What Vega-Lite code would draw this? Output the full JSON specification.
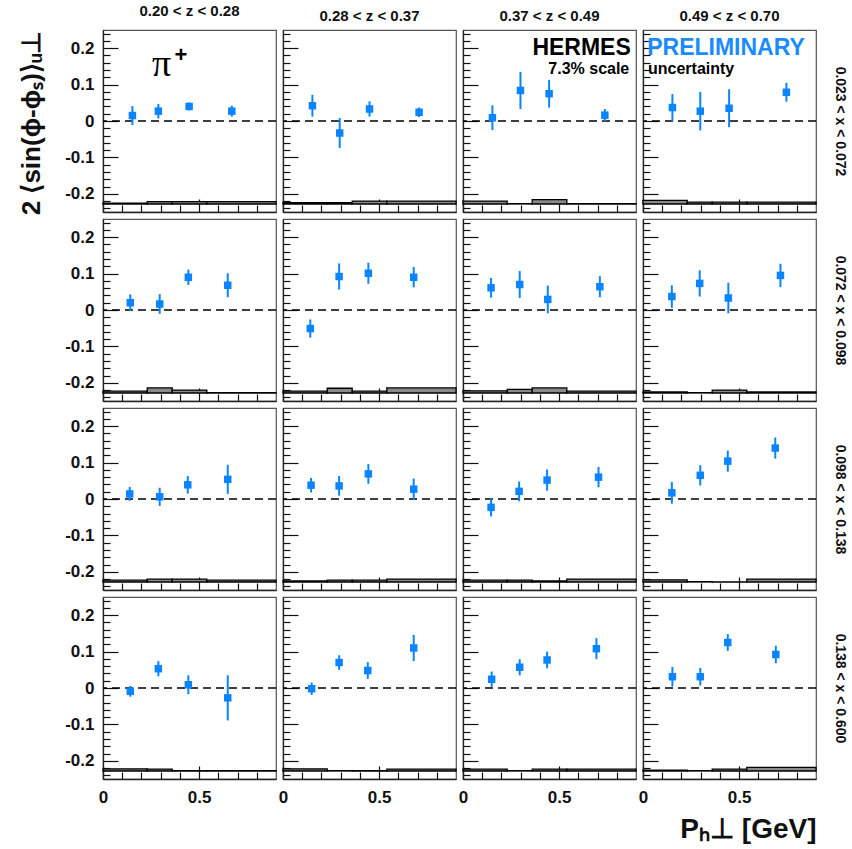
{
"$schema":"https://vega.github.io/schema/vega-lite/v6.json",
"padding":{"left":18,"top":3,"right":2,"bottom":5},
"datasets":{
"pts":[
{"r":1,"c":1,"p":0.153,"a":0.015,"e":0.026},{"r":1,"c":1,"p":0.288,"a":0.027,"e":0.02},{"r":1,"c":1,"p":0.448,"a":0.040,"e":0.011},{"r":1,"c":1,"p":0.670,"a":0.027,"e":0.015},
{"r":1,"c":2,"p":0.153,"a":0.042,"e":0.03},{"r":1,"c":2,"p":0.295,"a":-0.033,"e":0.041},{"r":1,"c":2,"p":0.450,"a":0.033,"e":0.021},{"r":1,"c":2,"p":0.708,"a":0.024,"e":0.013},
{"r":1,"c":3,"p":0.153,"a":0.009,"e":0.034},{"r":1,"c":3,"p":0.299,"a":0.084,"e":0.051},{"r":1,"c":3,"p":0.448,"a":0.075,"e":0.038},{"r":1,"c":3,"p":0.738,"a":0.016,"e":0.017},
{"r":1,"c":4,"p":0.153,"a":0.037,"e":0.037},{"r":1,"c":4,"p":0.298,"a":0.027,"e":0.053},{"r":1,"c":4,"p":0.448,"a":0.035,"e":0.052},{"r":1,"c":4,"p":0.746,"a":0.079,"e":0.026},
{"r":2,"c":1,"p":0.142,"a":0.020,"e":0.023},{"r":2,"c":1,"p":0.295,"a":0.0165,"e":0.027},{"r":2,"c":1,"p":0.444,"a":0.090,"e":0.021},{"r":2,"c":1,"p":0.649,"a":0.068,"e":0.033},
{"r":2,"c":2,"p":0.142,"a":-0.051,"e":0.025},{"r":2,"c":2,"p":0.292,"a":0.092,"e":0.036},{"r":2,"c":2,"p":0.444,"a":0.101,"e":0.029},{"r":2,"c":2,"p":0.680,"a":0.090,"e":0.028},
{"r":2,"c":3,"p":0.146,"a":0.061,"e":0.027},{"r":2,"c":3,"p":0.295,"a":0.070,"e":0.037},{"r":2,"c":3,"p":0.441,"a":0.029,"e":0.038},{"r":2,"c":3,"p":0.712,"a":0.064,"e":0.029},
{"r":2,"c":4,"p":0.150,"a":0.037,"e":0.031},{"r":2,"c":4,"p":0.295,"a":0.073,"e":0.036},{"r":2,"c":4,"p":0.444,"a":0.033,"e":0.042},{"r":2,"c":4,"p":0.715,"a":0.095,"e":0.032},
{"r":3,"c":1,"p":0.139,"a":0.014,"e":0.019},{"r":3,"c":1,"p":0.295,"a":0.006,"e":0.025},{"r":3,"c":1,"p":0.441,"a":0.039,"e":0.024},{"r":3,"c":1,"p":0.649,"a":0.054,"e":0.04},
{"r":3,"c":2,"p":0.146,"a":0.038,"e":0.02},{"r":3,"c":2,"p":0.292,"a":0.036,"e":0.027},{"r":3,"c":2,"p":0.444,"a":0.069,"e":0.027},{"r":3,"c":2,"p":0.680,"a":0.027,"e":0.029},
{"r":3,"c":3,"p":0.146,"a":-0.023,"e":0.025},{"r":3,"c":3,"p":0.292,"a":0.021,"e":0.027},{"r":3,"c":3,"p":0.4375,"a":0.052,"e":0.029},{"r":3,"c":3,"p":0.705,"a":0.060,"e":0.028},
{"r":3,"c":4,"p":0.150,"a":0.017,"e":0.030},{"r":3,"c":4,"p":0.298,"a":0.065,"e":0.028},{"r":3,"c":4,"p":0.441,"a":0.104,"e":0.029},{"r":3,"c":4,"p":0.688,"a":0.140,"e":0.029},
{"r":4,"c":1,"p":0.142,"a":-0.009,"e":0.015},{"r":4,"c":1,"p":0.288,"a":0.053,"e":0.021},{"r":4,"c":1,"p":0.444,"a":0.009,"e":0.026},{"r":4,"c":1,"p":0.649,"a":-0.027,"e":0.062},
{"r":4,"c":2,"p":0.149,"a":-0.002,"e":0.017},{"r":4,"c":2,"p":0.292,"a":0.070,"e":0.02},{"r":4,"c":2,"p":0.441,"a":0.048,"e":0.023},{"r":4,"c":2,"p":0.680,"a":0.110,"e":0.036},
{"r":4,"c":3,"p":0.149,"a":0.024,"e":0.021},{"r":4,"c":3,"p":0.295,"a":0.057,"e":0.022},{"r":4,"c":3,"p":0.4375,"a":0.077,"e":0.023},{"r":4,"c":3,"p":0.694,"a":0.108,"e":0.029},
{"r":4,"c":4,"p":0.153,"a":0.031,"e":0.027},{"r":4,"c":4,"p":0.298,"a":0.031,"e":0.024},{"r":4,"c":4,"p":0.441,"a":0.125,"e":0.023},{"r":4,"c":4,"p":0.691,"a":0.092,"e":0.024}
],
"sys":[
{"r":1,"c":1,"lo":0,"hi":0.23,"top":-0.226},{"r":1,"c":1,"lo":0.23,"hi":0.36,"top":-0.2215},{"r":1,"c":1,"lo":0.36,"hi":0.54,"top":-0.2215},{"r":1,"c":1,"lo":0.54,"hi":0.9,"top":-0.2215},
{"r":1,"c":2,"lo":0,"hi":0.23,"top":-0.224},{"r":1,"c":2,"lo":0.23,"hi":0.36,"top":-0.224},{"r":1,"c":2,"lo":0.36,"hi":0.54,"top":-0.220},{"r":1,"c":2,"lo":0.54,"hi":0.9,"top":-0.220},
{"r":1,"c":3,"lo":0,"hi":0.23,"top":-0.220},{"r":1,"c":3,"lo":0.23,"hi":0.36,"top":-0.227},{"r":1,"c":3,"lo":0.36,"hi":0.54,"top":-0.216},{"r":1,"c":3,"lo":0.54,"hi":0.9,"top":-0.227},
{"r":1,"c":4,"lo":0,"hi":0.23,"top":-0.218},{"r":1,"c":4,"lo":0.23,"hi":0.36,"top":-0.223},{"r":1,"c":4,"lo":0.36,"hi":0.54,"top":-0.223},{"r":1,"c":4,"lo":0.54,"hi":0.9,"top":-0.223},
{"r":2,"c":1,"lo":0,"hi":0.23,"top":-0.223},{"r":2,"c":1,"lo":0.23,"hi":0.36,"top":-0.214},{"r":2,"c":1,"lo":0.36,"hi":0.54,"top":-0.220},{"r":2,"c":1,"lo":0.54,"hi":0.9,"top":-0.227},
{"r":2,"c":2,"lo":0,"hi":0.23,"top":-0.223},{"r":2,"c":2,"lo":0.23,"hi":0.36,"top":-0.215},{"r":2,"c":2,"lo":0.36,"hi":0.54,"top":-0.223},{"r":2,"c":2,"lo":0.54,"hi":0.9,"top":-0.214},
{"r":2,"c":3,"lo":0,"hi":0.23,"top":-0.222},{"r":2,"c":3,"lo":0.23,"hi":0.36,"top":-0.218},{"r":2,"c":3,"lo":0.36,"hi":0.54,"top":-0.214},{"r":2,"c":3,"lo":0.54,"hi":0.9,"top":-0.223},
{"r":2,"c":4,"lo":0,"hi":0.23,"top":-0.225},{"r":2,"c":4,"lo":0.23,"hi":0.36,"top":-0.227},{"r":2,"c":4,"lo":0.36,"hi":0.54,"top":-0.220},{"r":2,"c":4,"lo":0.54,"hi":0.9,"top":-0.225},
{"r":3,"c":1,"lo":0,"hi":0.23,"top":-0.223},{"r":3,"c":1,"lo":0.23,"hi":0.36,"top":-0.220},{"r":3,"c":1,"lo":0.36,"hi":0.54,"top":-0.220},{"r":3,"c":1,"lo":0.54,"hi":0.9,"top":-0.223},
{"r":3,"c":2,"lo":0,"hi":0.23,"top":-0.225},{"r":3,"c":2,"lo":0.23,"hi":0.36,"top":-0.223},{"r":3,"c":2,"lo":0.36,"hi":0.54,"top":-0.223},{"r":3,"c":2,"lo":0.54,"hi":0.9,"top":-0.220},
{"r":3,"c":3,"lo":0,"hi":0.23,"top":-0.223},{"r":3,"c":3,"lo":0.23,"hi":0.36,"top":-0.223},{"r":3,"c":3,"lo":0.36,"hi":0.54,"top":-0.225},{"r":3,"c":3,"lo":0.54,"hi":0.9,"top":-0.220},
{"r":3,"c":4,"lo":0,"hi":0.23,"top":-0.222},{"r":3,"c":4,"lo":0.23,"hi":0.36,"top":-0.227},{"r":3,"c":4,"lo":0.36,"hi":0.54,"top":-0.2275},{"r":3,"c":4,"lo":0.54,"hi":0.9,"top":-0.220},
{"r":4,"c":1,"lo":0,"hi":0.23,"top":-0.222},{"r":4,"c":1,"lo":0.23,"hi":0.36,"top":-0.223},{"r":4,"c":1,"lo":0.36,"hi":0.54,"top":-0.227},{"r":4,"c":1,"lo":0.54,"hi":0.9,"top":-0.227},
{"r":4,"c":2,"lo":0,"hi":0.23,"top":-0.222},{"r":4,"c":2,"lo":0.23,"hi":0.36,"top":-0.227},{"r":4,"c":2,"lo":0.36,"hi":0.54,"top":-0.227},{"r":4,"c":2,"lo":0.54,"hi":0.9,"top":-0.223},
{"r":4,"c":3,"lo":0,"hi":0.23,"top":-0.223},{"r":4,"c":3,"lo":0.23,"hi":0.36,"top":-0.227},{"r":4,"c":3,"lo":0.36,"hi":0.54,"top":-0.223},{"r":4,"c":3,"lo":0.54,"hi":0.9,"top":-0.223},
{"r":4,"c":4,"lo":0,"hi":0.23,"top":-0.226},{"r":4,"c":4,"lo":0.23,"hi":0.36,"top":-0.227},{"r":4,"c":4,"lo":0.36,"hi":0.54,"top":-0.223},{"r":4,"c":4,"lo":0.54,"hi":0.9,"top":-0.218}
]
},
"columns":4,
"spacing":7,
"bounds":"flush",
"concat":[
{"width":173,"height":182,"title":{"text":"0.20 < z < 0.28"},"resolve":{"axis":{"x":"independent","y":"independent"}},
"layer":[
{"data":{"name":"sys"},"transform":[{"filter":"datum.r==1&&datum.c==1"}],"mark":{"type":"rect","fill":"#8a8a8a","stroke":"#000","strokeWidth":1.3},
"encoding":{"x":{"field":"lo","type":"quantitative","scale":{"domain":[0,0.9],"nice":false},"axis":{"values":[0,0.1,0.2,0.3,0.4,0.5,0.6,0.7,0.8],"tickSize":{"condition":{"test":"datum.value==0.5||datum.value==0","value":-13},"value":-7},"labels":false,"title":null}},"x2":{"field":"hi"},
"y":{"field":"top","type":"quantitative","scale":{"domain":[-0.25,0.25],"nice":false},"axis":{"values":[-0.24,-0.22,-0.2,-0.18,-0.16,-0.14,-0.12,-0.1,-0.08,-0.06,-0.04,-0.02,0,0.02,0.04,0.06,0.08,0.1,0.12,0.14,0.16,0.18,0.2,0.22,0.24],"tickSize":{"condition":{"test":"abs(datum.value*10-round(datum.value*10))<0.001","value":-15},"value":-7},"labelExpr":"abs(datum.value*10-round(datum.value*10))<0.001 ? (datum.value==0 ? '0' : replace(format(datum.value,'.1f'),'\u2212','-')) : ''","labelOverlap":false,"labelPadding":24,"title":"2 ⟨sin(ϕ-ϕₛ)⟩ᵤ⊥","titleAnchor":"end","titleFontSize":26,"titlePadding":20}},"y2":{"datum":-0.228}}},
{"data":{"name":"sys"},"transform":[{"filter":"datum.r==1&&datum.c==1&&datum.lo==0"}],"mark":{"type":"rule","strokeDash":[8,5],"color":"#000","strokeWidth":1.3},"encoding":{"y":{"datum":0,"type":"quantitative","scale":{"domain":[-0.25,0.25],"nice":false},"axis":null}}},
{"data":{"name":"pts"},"transform":[{"filter":"datum.r==1&&datum.c==1"}],"mark":{"type":"errorbar","color":"#0a84ff","thickness":2},"encoding":{"x":{"field":"p","type":"quantitative","scale":{"domain":[0,0.9],"nice":false},"axis":null},"y":{"field":"a","type":"quantitative","scale":{"domain":[-0.25,0.25],"nice":false},"axis":null},"yError":{"field":"e"}}},
{"data":{"name":"pts"},"transform":[{"filter":"datum.r==1&&datum.c==1"}],"mark":{"type":"square","color":"#0a84ff","size":56,"opacity":1},"encoding":{"x":{"field":"p","type":"quantitative","scale":{"domain":[0,0.9],"nice":false},"axis":null},"y":{"field":"a","type":"quantitative","scale":{"domain":[-0.25,0.25],"nice":false},"axis":null}}},
{"data":{"name":"sys"},"transform":[{"filter":"datum.r==1&&datum.c==1&&datum.lo==0"}],"mark":{"type":"text","text":"π","font":"Liberation Serif","fontSize":38,"align":"center","baseline":"alphabetic","color":"#000"},"encoding":{"x":{"datum":0.305,"type":"quantitative","scale":{"domain":[0,0.9],"nice":false},"axis":null},"y":{"datum":0.124,"type":"quantitative","scale":{"domain":[-0.25,0.25],"nice":false},"axis":null}}},
{"data":{"name":"sys"},"transform":[{"filter":"datum.r==1&&datum.c==1&&datum.lo==0"}],"mark":{"type":"text","text":"+","fontSize":22,"fontWeight":"bold","align":"center","baseline":"middle","color":"#000"},"encoding":{"x":{"datum":0.405,"type":"quantitative","scale":{"domain":[0,0.9],"nice":false},"axis":null},"y":{"datum":0.181,"type":"quantitative","scale":{"domain":[-0.25,0.25],"nice":false},"axis":null}}}
]},
{"width":173,"height":182,"title":{"text":"0.28 < z < 0.37"},"resolve":{"axis":{"x":"independent","y":"independent"}},
"layer":[
{"data":{"name":"sys"},"transform":[{"filter":"datum.r==1&&datum.c==2"}],"mark":{"type":"rect","fill":"#8a8a8a","stroke":"#000","strokeWidth":1.3},
"encoding":{"x":{"field":"lo","type":"quantitative","scale":{"domain":[0,0.9],"nice":false},"axis":{"values":[0,0.1,0.2,0.3,0.4,0.5,0.6,0.7,0.8],"tickSize":{"condition":{"test":"datum.value==0.5||datum.value==0","value":-13},"value":-7},"labels":false,"title":null}},"x2":{"field":"hi"},
"y":{"field":"top","type":"quantitative","scale":{"domain":[-0.25,0.25],"nice":false},"axis":{"values":[-0.24,-0.22,-0.2,-0.18,-0.16,-0.14,-0.12,-0.1,-0.08,-0.06,-0.04,-0.02,0,0.02,0.04,0.06,0.08,0.1,0.12,0.14,0.16,0.18,0.2,0.22,0.24],"tickSize":{"condition":{"test":"abs(datum.value*10-round(datum.value*10))<0.001","value":-15},"value":-7},"labels":false,"title":null}},"y2":{"datum":-0.228}}},
{"data":{"name":"sys"},"transform":[{"filter":"datum.r==1&&datum.c==2&&datum.lo==0"}],"mark":{"type":"rule","strokeDash":[8,5],"color":"#000","strokeWidth":1.3},"encoding":{"y":{"datum":0,"type":"quantitative","scale":{"domain":[-0.25,0.25],"nice":false},"axis":null}}},
{"data":{"name":"pts"},"transform":[{"filter":"datum.r==1&&datum.c==2"}],"mark":{"type":"errorbar","color":"#0a84ff","thickness":2},"encoding":{"x":{"field":"p","type":"quantitative","scale":{"domain":[0,0.9],"nice":false},"axis":null},"y":{"field":"a","type":"quantitative","scale":{"domain":[-0.25,0.25],"nice":false},"axis":null},"yError":{"field":"e"}}},
{"data":{"name":"pts"},"transform":[{"filter":"datum.r==1&&datum.c==2"}],"mark":{"type":"square","color":"#0a84ff","size":56,"opacity":1},"encoding":{"x":{"field":"p","type":"quantitative","scale":{"domain":[0,0.9],"nice":false},"axis":null},"y":{"field":"a","type":"quantitative","scale":{"domain":[-0.25,0.25],"nice":false},"axis":null}}}
]},
{"width":173,"height":182,"title":{"text":"0.37 < z < 0.49"},"resolve":{"axis":{"x":"independent","y":"independent"}},
"layer":[
{"data":{"name":"sys"},"transform":[{"filter":"datum.r==1&&datum.c==3"}],"mark":{"type":"rect","fill":"#8a8a8a","stroke":"#000","strokeWidth":1.3},
"encoding":{"x":{"field":"lo","type":"quantitative","scale":{"domain":[0,0.9],"nice":false},"axis":{"values":[0,0.1,0.2,0.3,0.4,0.5,0.6,0.7,0.8],"tickSize":{"condition":{"test":"datum.value==0.5||datum.value==0","value":-13},"value":-7},"labels":false,"title":null}},"x2":{"field":"hi"},
"y":{"field":"top","type":"quantitative","scale":{"domain":[-0.25,0.25],"nice":false},"axis":{"values":[-0.24,-0.22,-0.2,-0.18,-0.16,-0.14,-0.12,-0.1,-0.08,-0.06,-0.04,-0.02,0,0.02,0.04,0.06,0.08,0.1,0.12,0.14,0.16,0.18,0.2,0.22,0.24],"tickSize":{"condition":{"test":"abs(datum.value*10-round(datum.value*10))<0.001","value":-15},"value":-7},"labels":false,"title":null}},"y2":{"datum":-0.228}}},
{"data":{"name":"sys"},"transform":[{"filter":"datum.r==1&&datum.c==3&&datum.lo==0"}],"mark":{"type":"rule","strokeDash":[8,5],"color":"#000","strokeWidth":1.3},"encoding":{"y":{"datum":0,"type":"quantitative","scale":{"domain":[-0.25,0.25],"nice":false},"axis":null}}},
{"data":{"name":"pts"},"transform":[{"filter":"datum.r==1&&datum.c==3"}],"mark":{"type":"errorbar","color":"#0a84ff","thickness":2},"encoding":{"x":{"field":"p","type":"quantitative","scale":{"domain":[0,0.9],"nice":false},"axis":null},"y":{"field":"a","type":"quantitative","scale":{"domain":[-0.25,0.25],"nice":false},"axis":null},"yError":{"field":"e"}}},
{"data":{"name":"pts"},"transform":[{"filter":"datum.r==1&&datum.c==3"}],"mark":{"type":"square","color":"#0a84ff","size":56,"opacity":1},"encoding":{"x":{"field":"p","type":"quantitative","scale":{"domain":[0,0.9],"nice":false},"axis":null},"y":{"field":"a","type":"quantitative","scale":{"domain":[-0.25,0.25],"nice":false},"axis":null}}},
{"data":{"name":"sys"},"transform":[{"filter":"datum.r==1&&datum.c==3&&datum.lo==0"}],"mark":{"type":"text","text":"HERMES","fontSize":23,"fontWeight":"bold","align":"right","baseline":"alphabetic","color":"#000"},"encoding":{"x":{"datum":0.873,"type":"quantitative","scale":{"domain":[0,0.9],"nice":false},"axis":null},"y":{"datum":0.18,"type":"quantitative","scale":{"domain":[-0.25,0.25],"nice":false},"axis":null}}},
{"data":{"name":"sys"},"transform":[{"filter":"datum.r==1&&datum.c==3&&datum.lo==0"}],"mark":{"type":"text","text":"7.3%  scale","fontSize":16,"fontWeight":"bold","align":"right","baseline":"alphabetic","color":"#000"},"encoding":{"x":{"datum":0.865,"type":"quantitative","scale":{"domain":[0,0.9],"nice":false},"axis":null},"y":{"datum":0.13,"type":"quantitative","scale":{"domain":[-0.25,0.25],"nice":false},"axis":null}}}
]},
{"width":173,"height":182,"title":{"text":"0.49 < z < 0.70"},"resolve":{"axis":{"x":"independent","y":"independent"}},
"layer":[
{"data":{"name":"sys"},"transform":[{"filter":"datum.r==1&&datum.c==4"}],"mark":{"type":"rect","fill":"#8a8a8a","stroke":"#000","strokeWidth":1.3},
"encoding":{"x":{"field":"lo","type":"quantitative","scale":{"domain":[0,0.9],"nice":false},"axis":{"values":[0,0.1,0.2,0.3,0.4,0.5,0.6,0.7,0.8],"tickSize":{"condition":{"test":"datum.value==0.5||datum.value==0","value":-13},"value":-7},"labels":false,"title":null}},"x2":{"field":"hi"},
"y":{"field":"top","type":"quantitative","scale":{"domain":[-0.25,0.25],"nice":false},"axis":{"values":[-0.24,-0.22,-0.2,-0.18,-0.16,-0.14,-0.12,-0.1,-0.08,-0.06,-0.04,-0.02,0,0.02,0.04,0.06,0.08,0.1,0.12,0.14,0.16,0.18,0.2,0.22,0.24],"tickSize":{"condition":{"test":"abs(datum.value*10-round(datum.value*10))<0.001","value":-15},"value":-7},"labels":false,"title":null}},"y2":{"datum":-0.228}}},
{"data":{"name":"sys"},"transform":[{"filter":"datum.r==1&&datum.c==4&&datum.lo==0"}],"mark":{"type":"rule","strokeDash":[8,5],"color":"#000","strokeWidth":1.3},"encoding":{"y":{"datum":0,"type":"quantitative","scale":{"domain":[-0.25,0.25],"nice":false},"axis":null}}},
{"data":{"name":"pts"},"transform":[{"filter":"datum.r==1&&datum.c==4"}],"mark":{"type":"errorbar","color":"#0a84ff","thickness":2},"encoding":{"x":{"field":"p","type":"quantitative","scale":{"domain":[0,0.9],"nice":false},"axis":null},"y":{"field":"a","type":"quantitative","scale":{"domain":[-0.25,0.25],"nice":false},"axis":null},"yError":{"field":"e"}}},
{"data":{"name":"pts"},"transform":[{"filter":"datum.r==1&&datum.c==4"}],"mark":{"type":"square","color":"#0a84ff","size":56,"opacity":1},"encoding":{"x":{"field":"p","type":"quantitative","scale":{"domain":[0,0.9],"nice":false},"axis":null},"y":{"field":"a","type":"quantitative","scale":{"domain":[-0.25,0.25],"nice":false},"axis":{"orient":"right","title":"0.023 < x < 0.072","ticks":false,"labels":false,"domain":false,"titleFontSize":14,"titlePadding":16,"titleAngle":90}}}},
{"data":{"name":"sys"},"transform":[{"filter":"datum.r==1&&datum.c==4&&datum.lo==0"}],"mark":{"type":"text","text":"PRELIMINARY","fontSize":23,"fontWeight":"bold","align":"left","baseline":"alphabetic","color":"#1a8cff"},"encoding":{"x":{"datum":0.022,"type":"quantitative","scale":{"domain":[0,0.9],"nice":false},"axis":null},"y":{"datum":0.18,"type":"quantitative","scale":{"domain":[-0.25,0.25],"nice":false},"axis":null}}},
{"data":{"name":"sys"},"transform":[{"filter":"datum.r==1&&datum.c==4&&datum.lo==0"}],"mark":{"type":"text","text":"uncertainty","fontSize":16,"fontWeight":"bold","align":"left","baseline":"alphabetic","color":"#000"},"encoding":{"x":{"datum":0.026,"type":"quantitative","scale":{"domain":[0,0.9],"nice":false},"axis":null},"y":{"datum":0.13,"type":"quantitative","scale":{"domain":[-0.25,0.25],"nice":false},"axis":null}}}
]},
{"width":173,"height":182,"resolve":{"axis":{"x":"independent","y":"independent"}},
"layer":[
{"data":{"name":"sys"},"transform":[{"filter":"datum.r==2&&datum.c==1"}],"mark":{"type":"rect","fill":"#8a8a8a","stroke":"#000","strokeWidth":1.3},
"encoding":{"x":{"field":"lo","type":"quantitative","scale":{"domain":[0,0.9],"nice":false},"axis":{"values":[0,0.1,0.2,0.3,0.4,0.5,0.6,0.7,0.8],"tickSize":{"condition":{"test":"datum.value==0.5||datum.value==0","value":-13},"value":-7},"labels":false,"title":null}},"x2":{"field":"hi"},
"y":{"field":"top","type":"quantitative","scale":{"domain":[-0.25,0.25],"nice":false},"axis":{"values":[-0.24,-0.22,-0.2,-0.18,-0.16,-0.14,-0.12,-0.1,-0.08,-0.06,-0.04,-0.02,0,0.02,0.04,0.06,0.08,0.1,0.12,0.14,0.16,0.18,0.2,0.22,0.24],"tickSize":{"condition":{"test":"abs(datum.value*10-round(datum.value*10))<0.001","value":-15},"value":-7},"labelExpr":"abs(datum.value*10-round(datum.value*10))<0.001 ? (datum.value==0 ? '0' : replace(format(datum.value,'.1f'),'\u2212','-')) : ''","labelOverlap":false,"labelPadding":24,"title":null}},"y2":{"datum":-0.228}}},
{"data":{"name":"sys"},"transform":[{"filter":"datum.r==2&&datum.c==1&&datum.lo==0"}],"mark":{"type":"rule","strokeDash":[8,5],"color":"#000","strokeWidth":1.3},"encoding":{"y":{"datum":0,"type":"quantitative","scale":{"domain":[-0.25,0.25],"nice":false},"axis":null}}},
{"data":{"name":"pts"},"transform":[{"filter":"datum.r==2&&datum.c==1"}],"mark":{"type":"errorbar","color":"#0a84ff","thickness":2},"encoding":{"x":{"field":"p","type":"quantitative","scale":{"domain":[0,0.9],"nice":false},"axis":null},"y":{"field":"a","type":"quantitative","scale":{"domain":[-0.25,0.25],"nice":false},"axis":null},"yError":{"field":"e"}}},
{"data":{"name":"pts"},"transform":[{"filter":"datum.r==2&&datum.c==1"}],"mark":{"type":"square","color":"#0a84ff","size":56,"opacity":1},"encoding":{"x":{"field":"p","type":"quantitative","scale":{"domain":[0,0.9],"nice":false},"axis":null},"y":{"field":"a","type":"quantitative","scale":{"domain":[-0.25,0.25],"nice":false},"axis":null}}}
]},
{"width":173,"height":182,"resolve":{"axis":{"x":"independent","y":"independent"}},
"layer":[
{"data":{"name":"sys"},"transform":[{"filter":"datum.r==2&&datum.c==2"}],"mark":{"type":"rect","fill":"#8a8a8a","stroke":"#000","strokeWidth":1.3},
"encoding":{"x":{"field":"lo","type":"quantitative","scale":{"domain":[0,0.9],"nice":false},"axis":{"values":[0,0.1,0.2,0.3,0.4,0.5,0.6,0.7,0.8],"tickSize":{"condition":{"test":"datum.value==0.5||datum.value==0","value":-13},"value":-7},"labels":false,"title":null}},"x2":{"field":"hi"},
"y":{"field":"top","type":"quantitative","scale":{"domain":[-0.25,0.25],"nice":false},"axis":{"values":[-0.24,-0.22,-0.2,-0.18,-0.16,-0.14,-0.12,-0.1,-0.08,-0.06,-0.04,-0.02,0,0.02,0.04,0.06,0.08,0.1,0.12,0.14,0.16,0.18,0.2,0.22,0.24],"tickSize":{"condition":{"test":"abs(datum.value*10-round(datum.value*10))<0.001","value":-15},"value":-7},"labels":false,"title":null}},"y2":{"datum":-0.228}}},
{"data":{"name":"sys"},"transform":[{"filter":"datum.r==2&&datum.c==2&&datum.lo==0"}],"mark":{"type":"rule","strokeDash":[8,5],"color":"#000","strokeWidth":1.3},"encoding":{"y":{"datum":0,"type":"quantitative","scale":{"domain":[-0.25,0.25],"nice":false},"axis":null}}},
{"data":{"name":"pts"},"transform":[{"filter":"datum.r==2&&datum.c==2"}],"mark":{"type":"errorbar","color":"#0a84ff","thickness":2},"encoding":{"x":{"field":"p","type":"quantitative","scale":{"domain":[0,0.9],"nice":false},"axis":null},"y":{"field":"a","type":"quantitative","scale":{"domain":[-0.25,0.25],"nice":false},"axis":null},"yError":{"field":"e"}}},
{"data":{"name":"pts"},"transform":[{"filter":"datum.r==2&&datum.c==2"}],"mark":{"type":"square","color":"#0a84ff","size":56,"opacity":1},"encoding":{"x":{"field":"p","type":"quantitative","scale":{"domain":[0,0.9],"nice":false},"axis":null},"y":{"field":"a","type":"quantitative","scale":{"domain":[-0.25,0.25],"nice":false},"axis":null}}}
]},
{"width":173,"height":182,"resolve":{"axis":{"x":"independent","y":"independent"}},
"layer":[
{"data":{"name":"sys"},"transform":[{"filter":"datum.r==2&&datum.c==3"}],"mark":{"type":"rect","fill":"#8a8a8a","stroke":"#000","strokeWidth":1.3},
"encoding":{"x":{"field":"lo","type":"quantitative","scale":{"domain":[0,0.9],"nice":false},"axis":{"values":[0,0.1,0.2,0.3,0.4,0.5,0.6,0.7,0.8],"tickSize":{"condition":{"test":"datum.value==0.5||datum.value==0","value":-13},"value":-7},"labels":false,"title":null}},"x2":{"field":"hi"},
"y":{"field":"top","type":"quantitative","scale":{"domain":[-0.25,0.25],"nice":false},"axis":{"values":[-0.24,-0.22,-0.2,-0.18,-0.16,-0.14,-0.12,-0.1,-0.08,-0.06,-0.04,-0.02,0,0.02,0.04,0.06,0.08,0.1,0.12,0.14,0.16,0.18,0.2,0.22,0.24],"tickSize":{"condition":{"test":"abs(datum.value*10-round(datum.value*10))<0.001","value":-15},"value":-7},"labels":false,"title":null}},"y2":{"datum":-0.228}}},
{"data":{"name":"sys"},"transform":[{"filter":"datum.r==2&&datum.c==3&&datum.lo==0"}],"mark":{"type":"rule","strokeDash":[8,5],"color":"#000","strokeWidth":1.3},"encoding":{"y":{"datum":0,"type":"quantitative","scale":{"domain":[-0.25,0.25],"nice":false},"axis":null}}},
{"data":{"name":"pts"},"transform":[{"filter":"datum.r==2&&datum.c==3"}],"mark":{"type":"errorbar","color":"#0a84ff","thickness":2},"encoding":{"x":{"field":"p","type":"quantitative","scale":{"domain":[0,0.9],"nice":false},"axis":null},"y":{"field":"a","type":"quantitative","scale":{"domain":[-0.25,0.25],"nice":false},"axis":null},"yError":{"field":"e"}}},
{"data":{"name":"pts"},"transform":[{"filter":"datum.r==2&&datum.c==3"}],"mark":{"type":"square","color":"#0a84ff","size":56,"opacity":1},"encoding":{"x":{"field":"p","type":"quantitative","scale":{"domain":[0,0.9],"nice":false},"axis":null},"y":{"field":"a","type":"quantitative","scale":{"domain":[-0.25,0.25],"nice":false},"axis":null}}}
]},
{"width":173,"height":182,"resolve":{"axis":{"x":"independent","y":"independent"}},
"layer":[
{"data":{"name":"sys"},"transform":[{"filter":"datum.r==2&&datum.c==4"}],"mark":{"type":"rect","fill":"#8a8a8a","stroke":"#000","strokeWidth":1.3},
"encoding":{"x":{"field":"lo","type":"quantitative","scale":{"domain":[0,0.9],"nice":false},"axis":{"values":[0,0.1,0.2,0.3,0.4,0.5,0.6,0.7,0.8],"tickSize":{"condition":{"test":"datum.value==0.5||datum.value==0","value":-13},"value":-7},"labels":false,"title":null}},"x2":{"field":"hi"},
"y":{"field":"top","type":"quantitative","scale":{"domain":[-0.25,0.25],"nice":false},"axis":{"values":[-0.24,-0.22,-0.2,-0.18,-0.16,-0.14,-0.12,-0.1,-0.08,-0.06,-0.04,-0.02,0,0.02,0.04,0.06,0.08,0.1,0.12,0.14,0.16,0.18,0.2,0.22,0.24],"tickSize":{"condition":{"test":"abs(datum.value*10-round(datum.value*10))<0.001","value":-15},"value":-7},"labels":false,"title":null}},"y2":{"datum":-0.228}}},
{"data":{"name":"sys"},"transform":[{"filter":"datum.r==2&&datum.c==4&&datum.lo==0"}],"mark":{"type":"rule","strokeDash":[8,5],"color":"#000","strokeWidth":1.3},"encoding":{"y":{"datum":0,"type":"quantitative","scale":{"domain":[-0.25,0.25],"nice":false},"axis":null}}},
{"data":{"name":"pts"},"transform":[{"filter":"datum.r==2&&datum.c==4"}],"mark":{"type":"errorbar","color":"#0a84ff","thickness":2},"encoding":{"x":{"field":"p","type":"quantitative","scale":{"domain":[0,0.9],"nice":false},"axis":null},"y":{"field":"a","type":"quantitative","scale":{"domain":[-0.25,0.25],"nice":false},"axis":null},"yError":{"field":"e"}}},
{"data":{"name":"pts"},"transform":[{"filter":"datum.r==2&&datum.c==4"}],"mark":{"type":"square","color":"#0a84ff","size":56,"opacity":1},"encoding":{"x":{"field":"p","type":"quantitative","scale":{"domain":[0,0.9],"nice":false},"axis":null},"y":{"field":"a","type":"quantitative","scale":{"domain":[-0.25,0.25],"nice":false},"axis":{"orient":"right","title":"0.072 < x < 0.098","ticks":false,"labels":false,"domain":false,"titleFontSize":14,"titlePadding":16,"titleAngle":90}}}}
]},
{"width":173,"height":182,"resolve":{"axis":{"x":"independent","y":"independent"}},
"layer":[
{"data":{"name":"sys"},"transform":[{"filter":"datum.r==3&&datum.c==1"}],"mark":{"type":"rect","fill":"#8a8a8a","stroke":"#000","strokeWidth":1.3},
"encoding":{"x":{"field":"lo","type":"quantitative","scale":{"domain":[0,0.9],"nice":false},"axis":{"values":[0,0.1,0.2,0.3,0.4,0.5,0.6,0.7,0.8],"tickSize":{"condition":{"test":"datum.value==0.5||datum.value==0","value":-13},"value":-7},"labels":false,"title":null}},"x2":{"field":"hi"},
"y":{"field":"top","type":"quantitative","scale":{"domain":[-0.25,0.25],"nice":false},"axis":{"values":[-0.24,-0.22,-0.2,-0.18,-0.16,-0.14,-0.12,-0.1,-0.08,-0.06,-0.04,-0.02,0,0.02,0.04,0.06,0.08,0.1,0.12,0.14,0.16,0.18,0.2,0.22,0.24],"tickSize":{"condition":{"test":"abs(datum.value*10-round(datum.value*10))<0.001","value":-15},"value":-7},"labelExpr":"abs(datum.value*10-round(datum.value*10))<0.001 ? (datum.value==0 ? '0' : replace(format(datum.value,'.1f'),'\u2212','-')) : ''","labelOverlap":false,"labelPadding":24,"title":null}},"y2":{"datum":-0.228}}},
{"data":{"name":"sys"},"transform":[{"filter":"datum.r==3&&datum.c==1&&datum.lo==0"}],"mark":{"type":"rule","strokeDash":[8,5],"color":"#000","strokeWidth":1.3},"encoding":{"y":{"datum":0,"type":"quantitative","scale":{"domain":[-0.25,0.25],"nice":false},"axis":null}}},
{"data":{"name":"pts"},"transform":[{"filter":"datum.r==3&&datum.c==1"}],"mark":{"type":"errorbar","color":"#0a84ff","thickness":2},"encoding":{"x":{"field":"p","type":"quantitative","scale":{"domain":[0,0.9],"nice":false},"axis":null},"y":{"field":"a","type":"quantitative","scale":{"domain":[-0.25,0.25],"nice":false},"axis":null},"yError":{"field":"e"}}},
{"data":{"name":"pts"},"transform":[{"filter":"datum.r==3&&datum.c==1"}],"mark":{"type":"square","color":"#0a84ff","size":56,"opacity":1},"encoding":{"x":{"field":"p","type":"quantitative","scale":{"domain":[0,0.9],"nice":false},"axis":null},"y":{"field":"a","type":"quantitative","scale":{"domain":[-0.25,0.25],"nice":false},"axis":null}}}
]},
{"width":173,"height":182,"resolve":{"axis":{"x":"independent","y":"independent"}},
"layer":[
{"data":{"name":"sys"},"transform":[{"filter":"datum.r==3&&datum.c==2"}],"mark":{"type":"rect","fill":"#8a8a8a","stroke":"#000","strokeWidth":1.3},
"encoding":{"x":{"field":"lo","type":"quantitative","scale":{"domain":[0,0.9],"nice":false},"axis":{"values":[0,0.1,0.2,0.3,0.4,0.5,0.6,0.7,0.8],"tickSize":{"condition":{"test":"datum.value==0.5||datum.value==0","value":-13},"value":-7},"labels":false,"title":null}},"x2":{"field":"hi"},
"y":{"field":"top","type":"quantitative","scale":{"domain":[-0.25,0.25],"nice":false},"axis":{"values":[-0.24,-0.22,-0.2,-0.18,-0.16,-0.14,-0.12,-0.1,-0.08,-0.06,-0.04,-0.02,0,0.02,0.04,0.06,0.08,0.1,0.12,0.14,0.16,0.18,0.2,0.22,0.24],"tickSize":{"condition":{"test":"abs(datum.value*10-round(datum.value*10))<0.001","value":-15},"value":-7},"labels":false,"title":null}},"y2":{"datum":-0.228}}},
{"data":{"name":"sys"},"transform":[{"filter":"datum.r==3&&datum.c==2&&datum.lo==0"}],"mark":{"type":"rule","strokeDash":[8,5],"color":"#000","strokeWidth":1.3},"encoding":{"y":{"datum":0,"type":"quantitative","scale":{"domain":[-0.25,0.25],"nice":false},"axis":null}}},
{"data":{"name":"pts"},"transform":[{"filter":"datum.r==3&&datum.c==2"}],"mark":{"type":"errorbar","color":"#0a84ff","thickness":2},"encoding":{"x":{"field":"p","type":"quantitative","scale":{"domain":[0,0.9],"nice":false},"axis":null},"y":{"field":"a","type":"quantitative","scale":{"domain":[-0.25,0.25],"nice":false},"axis":null},"yError":{"field":"e"}}},
{"data":{"name":"pts"},"transform":[{"filter":"datum.r==3&&datum.c==2"}],"mark":{"type":"square","color":"#0a84ff","size":56,"opacity":1},"encoding":{"x":{"field":"p","type":"quantitative","scale":{"domain":[0,0.9],"nice":false},"axis":null},"y":{"field":"a","type":"quantitative","scale":{"domain":[-0.25,0.25],"nice":false},"axis":null}}}
]},
{"width":173,"height":182,"resolve":{"axis":{"x":"independent","y":"independent"}},
"layer":[
{"data":{"name":"sys"},"transform":[{"filter":"datum.r==3&&datum.c==3"}],"mark":{"type":"rect","fill":"#8a8a8a","stroke":"#000","strokeWidth":1.3},
"encoding":{"x":{"field":"lo","type":"quantitative","scale":{"domain":[0,0.9],"nice":false},"axis":{"values":[0,0.1,0.2,0.3,0.4,0.5,0.6,0.7,0.8],"tickSize":{"condition":{"test":"datum.value==0.5||datum.value==0","value":-13},"value":-7},"labels":false,"title":null}},"x2":{"field":"hi"},
"y":{"field":"top","type":"quantitative","scale":{"domain":[-0.25,0.25],"nice":false},"axis":{"values":[-0.24,-0.22,-0.2,-0.18,-0.16,-0.14,-0.12,-0.1,-0.08,-0.06,-0.04,-0.02,0,0.02,0.04,0.06,0.08,0.1,0.12,0.14,0.16,0.18,0.2,0.22,0.24],"tickSize":{"condition":{"test":"abs(datum.value*10-round(datum.value*10))<0.001","value":-15},"value":-7},"labels":false,"title":null}},"y2":{"datum":-0.228}}},
{"data":{"name":"sys"},"transform":[{"filter":"datum.r==3&&datum.c==3&&datum.lo==0"}],"mark":{"type":"rule","strokeDash":[8,5],"color":"#000","strokeWidth":1.3},"encoding":{"y":{"datum":0,"type":"quantitative","scale":{"domain":[-0.25,0.25],"nice":false},"axis":null}}},
{"data":{"name":"pts"},"transform":[{"filter":"datum.r==3&&datum.c==3"}],"mark":{"type":"errorbar","color":"#0a84ff","thickness":2},"encoding":{"x":{"field":"p","type":"quantitative","scale":{"domain":[0,0.9],"nice":false},"axis":null},"y":{"field":"a","type":"quantitative","scale":{"domain":[-0.25,0.25],"nice":false},"axis":null},"yError":{"field":"e"}}},
{"data":{"name":"pts"},"transform":[{"filter":"datum.r==3&&datum.c==3"}],"mark":{"type":"square","color":"#0a84ff","size":56,"opacity":1},"encoding":{"x":{"field":"p","type":"quantitative","scale":{"domain":[0,0.9],"nice":false},"axis":null},"y":{"field":"a","type":"quantitative","scale":{"domain":[-0.25,0.25],"nice":false},"axis":null}}}
]},
{"width":173,"height":182,"resolve":{"axis":{"x":"independent","y":"independent"}},
"layer":[
{"data":{"name":"sys"},"transform":[{"filter":"datum.r==3&&datum.c==4"}],"mark":{"type":"rect","fill":"#8a8a8a","stroke":"#000","strokeWidth":1.3},
"encoding":{"x":{"field":"lo","type":"quantitative","scale":{"domain":[0,0.9],"nice":false},"axis":{"values":[0,0.1,0.2,0.3,0.4,0.5,0.6,0.7,0.8],"tickSize":{"condition":{"test":"datum.value==0.5||datum.value==0","value":-13},"value":-7},"labels":false,"title":null}},"x2":{"field":"hi"},
"y":{"field":"top","type":"quantitative","scale":{"domain":[-0.25,0.25],"nice":false},"axis":{"values":[-0.24,-0.22,-0.2,-0.18,-0.16,-0.14,-0.12,-0.1,-0.08,-0.06,-0.04,-0.02,0,0.02,0.04,0.06,0.08,0.1,0.12,0.14,0.16,0.18,0.2,0.22,0.24],"tickSize":{"condition":{"test":"abs(datum.value*10-round(datum.value*10))<0.001","value":-15},"value":-7},"labels":false,"title":null}},"y2":{"datum":-0.228}}},
{"data":{"name":"sys"},"transform":[{"filter":"datum.r==3&&datum.c==4&&datum.lo==0"}],"mark":{"type":"rule","strokeDash":[8,5],"color":"#000","strokeWidth":1.3},"encoding":{"y":{"datum":0,"type":"quantitative","scale":{"domain":[-0.25,0.25],"nice":false},"axis":null}}},
{"data":{"name":"pts"},"transform":[{"filter":"datum.r==3&&datum.c==4"}],"mark":{"type":"errorbar","color":"#0a84ff","thickness":2},"encoding":{"x":{"field":"p","type":"quantitative","scale":{"domain":[0,0.9],"nice":false},"axis":null},"y":{"field":"a","type":"quantitative","scale":{"domain":[-0.25,0.25],"nice":false},"axis":null},"yError":{"field":"e"}}},
{"data":{"name":"pts"},"transform":[{"filter":"datum.r==3&&datum.c==4"}],"mark":{"type":"square","color":"#0a84ff","size":56,"opacity":1},"encoding":{"x":{"field":"p","type":"quantitative","scale":{"domain":[0,0.9],"nice":false},"axis":null},"y":{"field":"a","type":"quantitative","scale":{"domain":[-0.25,0.25],"nice":false},"axis":{"orient":"right","title":"0.098 < x < 0.138","ticks":false,"labels":false,"domain":false,"titleFontSize":14,"titlePadding":16,"titleAngle":90}}}}
]},
{"width":173,"height":182,"resolve":{"axis":{"x":"independent","y":"independent"}},
"layer":[
{"data":{"name":"sys"},"transform":[{"filter":"datum.r==4&&datum.c==1"}],"mark":{"type":"rect","fill":"#8a8a8a","stroke":"#000","strokeWidth":1.3},
"encoding":{"x":{"field":"lo","type":"quantitative","scale":{"domain":[0,0.9],"nice":false},"axis":{"values":[0,0.1,0.2,0.3,0.4,0.5,0.6,0.7,0.8],"tickSize":{"condition":{"test":"datum.value==0.5||datum.value==0","value":-13},"value":-7},"labelExpr":"datum.value==0 ? '0' : datum.value==0.5 ? '0.5' : ''","labelOverlap":false,"labelFlush":false,"labelPadding":23,"title":null}},"x2":{"field":"hi"},
"y":{"field":"top","type":"quantitative","scale":{"domain":[-0.25,0.25],"nice":false},"axis":{"values":[-0.24,-0.22,-0.2,-0.18,-0.16,-0.14,-0.12,-0.1,-0.08,-0.06,-0.04,-0.02,0,0.02,0.04,0.06,0.08,0.1,0.12,0.14,0.16,0.18,0.2,0.22,0.24],"tickSize":{"condition":{"test":"abs(datum.value*10-round(datum.value*10))<0.001","value":-15},"value":-7},"labelExpr":"abs(datum.value*10-round(datum.value*10))<0.001 ? (datum.value==0 ? '0' : replace(format(datum.value,'.1f'),'\u2212','-')) : ''","labelOverlap":false,"labelPadding":24,"title":null}},"y2":{"datum":-0.228}}},
{"data":{"name":"sys"},"transform":[{"filter":"datum.r==4&&datum.c==1&&datum.lo==0"}],"mark":{"type":"rule","strokeDash":[8,5],"color":"#000","strokeWidth":1.3},"encoding":{"y":{"datum":0,"type":"quantitative","scale":{"domain":[-0.25,0.25],"nice":false},"axis":null}}},
{"data":{"name":"pts"},"transform":[{"filter":"datum.r==4&&datum.c==1"}],"mark":{"type":"errorbar","color":"#0a84ff","thickness":2},"encoding":{"x":{"field":"p","type":"quantitative","scale":{"domain":[0,0.9],"nice":false},"axis":null},"y":{"field":"a","type":"quantitative","scale":{"domain":[-0.25,0.25],"nice":false},"axis":null},"yError":{"field":"e"}}},
{"data":{"name":"pts"},"transform":[{"filter":"datum.r==4&&datum.c==1"}],"mark":{"type":"square","color":"#0a84ff","size":56,"opacity":1},"encoding":{"x":{"field":"p","type":"quantitative","scale":{"domain":[0,0.9],"nice":false},"axis":null},"y":{"field":"a","type":"quantitative","scale":{"domain":[-0.25,0.25],"nice":false},"axis":null}}}
]},
{"width":173,"height":182,"resolve":{"axis":{"x":"independent","y":"independent"}},
"layer":[
{"data":{"name":"sys"},"transform":[{"filter":"datum.r==4&&datum.c==2"}],"mark":{"type":"rect","fill":"#8a8a8a","stroke":"#000","strokeWidth":1.3},
"encoding":{"x":{"field":"lo","type":"quantitative","scale":{"domain":[0,0.9],"nice":false},"axis":{"values":[0,0.1,0.2,0.3,0.4,0.5,0.6,0.7,0.8],"tickSize":{"condition":{"test":"datum.value==0.5||datum.value==0","value":-13},"value":-7},"labelExpr":"datum.value==0 ? '0' : datum.value==0.5 ? '0.5' : ''","labelOverlap":false,"labelFlush":false,"labelPadding":23,"title":null}},"x2":{"field":"hi"},
"y":{"field":"top","type":"quantitative","scale":{"domain":[-0.25,0.25],"nice":false},"axis":{"values":[-0.24,-0.22,-0.2,-0.18,-0.16,-0.14,-0.12,-0.1,-0.08,-0.06,-0.04,-0.02,0,0.02,0.04,0.06,0.08,0.1,0.12,0.14,0.16,0.18,0.2,0.22,0.24],"tickSize":{"condition":{"test":"abs(datum.value*10-round(datum.value*10))<0.001","value":-15},"value":-7},"labels":false,"title":null}},"y2":{"datum":-0.228}}},
{"data":{"name":"sys"},"transform":[{"filter":"datum.r==4&&datum.c==2&&datum.lo==0"}],"mark":{"type":"rule","strokeDash":[8,5],"color":"#000","strokeWidth":1.3},"encoding":{"y":{"datum":0,"type":"quantitative","scale":{"domain":[-0.25,0.25],"nice":false},"axis":null}}},
{"data":{"name":"pts"},"transform":[{"filter":"datum.r==4&&datum.c==2"}],"mark":{"type":"errorbar","color":"#0a84ff","thickness":2},"encoding":{"x":{"field":"p","type":"quantitative","scale":{"domain":[0,0.9],"nice":false},"axis":null},"y":{"field":"a","type":"quantitative","scale":{"domain":[-0.25,0.25],"nice":false},"axis":null},"yError":{"field":"e"}}},
{"data":{"name":"pts"},"transform":[{"filter":"datum.r==4&&datum.c==2"}],"mark":{"type":"square","color":"#0a84ff","size":56,"opacity":1},"encoding":{"x":{"field":"p","type":"quantitative","scale":{"domain":[0,0.9],"nice":false},"axis":null},"y":{"field":"a","type":"quantitative","scale":{"domain":[-0.25,0.25],"nice":false},"axis":null}}}
]},
{"width":173,"height":182,"resolve":{"axis":{"x":"independent","y":"independent"}},
"layer":[
{"data":{"name":"sys"},"transform":[{"filter":"datum.r==4&&datum.c==3"}],"mark":{"type":"rect","fill":"#8a8a8a","stroke":"#000","strokeWidth":1.3},
"encoding":{"x":{"field":"lo","type":"quantitative","scale":{"domain":[0,0.9],"nice":false},"axis":{"values":[0,0.1,0.2,0.3,0.4,0.5,0.6,0.7,0.8],"tickSize":{"condition":{"test":"datum.value==0.5||datum.value==0","value":-13},"value":-7},"labelExpr":"datum.value==0 ? '0' : datum.value==0.5 ? '0.5' : ''","labelOverlap":false,"labelFlush":false,"labelPadding":23,"title":null}},"x2":{"field":"hi"},
"y":{"field":"top","type":"quantitative","scale":{"domain":[-0.25,0.25],"nice":false},"axis":{"values":[-0.24,-0.22,-0.2,-0.18,-0.16,-0.14,-0.12,-0.1,-0.08,-0.06,-0.04,-0.02,0,0.02,0.04,0.06,0.08,0.1,0.12,0.14,0.16,0.18,0.2,0.22,0.24],"tickSize":{"condition":{"test":"abs(datum.value*10-round(datum.value*10))<0.001","value":-15},"value":-7},"labels":false,"title":null}},"y2":{"datum":-0.228}}},
{"data":{"name":"sys"},"transform":[{"filter":"datum.r==4&&datum.c==3&&datum.lo==0"}],"mark":{"type":"rule","strokeDash":[8,5],"color":"#000","strokeWidth":1.3},"encoding":{"y":{"datum":0,"type":"quantitative","scale":{"domain":[-0.25,0.25],"nice":false},"axis":null}}},
{"data":{"name":"pts"},"transform":[{"filter":"datum.r==4&&datum.c==3"}],"mark":{"type":"errorbar","color":"#0a84ff","thickness":2},"encoding":{"x":{"field":"p","type":"quantitative","scale":{"domain":[0,0.9],"nice":false},"axis":null},"y":{"field":"a","type":"quantitative","scale":{"domain":[-0.25,0.25],"nice":false},"axis":null},"yError":{"field":"e"}}},
{"data":{"name":"pts"},"transform":[{"filter":"datum.r==4&&datum.c==3"}],"mark":{"type":"square","color":"#0a84ff","size":56,"opacity":1},"encoding":{"x":{"field":"p","type":"quantitative","scale":{"domain":[0,0.9],"nice":false},"axis":null},"y":{"field":"a","type":"quantitative","scale":{"domain":[-0.25,0.25],"nice":false},"axis":null}}}
]},
{"width":173,"height":182,"resolve":{"axis":{"x":"independent","y":"independent"}},
"layer":[
{"data":{"name":"sys"},"transform":[{"filter":"datum.r==4&&datum.c==4"}],"mark":{"type":"rect","fill":"#8a8a8a","stroke":"#000","strokeWidth":1.3},
"encoding":{"x":{"field":"lo","type":"quantitative","scale":{"domain":[0,0.9],"nice":false},"axis":{"values":[0,0.1,0.2,0.3,0.4,0.5,0.6,0.7,0.8],"tickSize":{"condition":{"test":"datum.value==0.5||datum.value==0","value":-13},"value":-7},"labelExpr":"datum.value==0 ? '0' : datum.value==0.5 ? '0.5' : ''","labelOverlap":false,"labelFlush":false,"labelPadding":23,"title":"Pₕ⊥ [GeV]","titleAnchor":"end","titleFontSize":28,"titlePadding":4}},"x2":{"field":"hi"},
"y":{"field":"top","type":"quantitative","scale":{"domain":[-0.25,0.25],"nice":false},"axis":{"values":[-0.24,-0.22,-0.2,-0.18,-0.16,-0.14,-0.12,-0.1,-0.08,-0.06,-0.04,-0.02,0,0.02,0.04,0.06,0.08,0.1,0.12,0.14,0.16,0.18,0.2,0.22,0.24],"tickSize":{"condition":{"test":"abs(datum.value*10-round(datum.value*10))<0.001","value":-15},"value":-7},"labels":false,"title":null}},"y2":{"datum":-0.228}}},
{"data":{"name":"sys"},"transform":[{"filter":"datum.r==4&&datum.c==4&&datum.lo==0"}],"mark":{"type":"rule","strokeDash":[8,5],"color":"#000","strokeWidth":1.3},"encoding":{"y":{"datum":0,"type":"quantitative","scale":{"domain":[-0.25,0.25],"nice":false},"axis":null}}},
{"data":{"name":"pts"},"transform":[{"filter":"datum.r==4&&datum.c==4"}],"mark":{"type":"errorbar","color":"#0a84ff","thickness":2},"encoding":{"x":{"field":"p","type":"quantitative","scale":{"domain":[0,0.9],"nice":false},"axis":null},"y":{"field":"a","type":"quantitative","scale":{"domain":[-0.25,0.25],"nice":false},"axis":null},"yError":{"field":"e"}}},
{"data":{"name":"pts"},"transform":[{"filter":"datum.r==4&&datum.c==4"}],"mark":{"type":"square","color":"#0a84ff","size":56,"opacity":1},"encoding":{"x":{"field":"p","type":"quantitative","scale":{"domain":[0,0.9],"nice":false},"axis":null},"y":{"field":"a","type":"quantitative","scale":{"domain":[-0.25,0.25],"nice":false},"axis":{"orient":"right","title":"0.138 < x < 0.600","ticks":false,"labels":false,"domain":false,"titleFontSize":14,"titlePadding":16,"titleAngle":90}}}}
]}
],
"config":{
"font":"Liberation Sans",
"view":{"stroke":"#555","strokeWidth":1.2},
"axis":{"domainColor":"#222","domainWidth":1.3,"tickColor":"#111","tickWidth":1.2,"labelFont":"Liberation Sans","labelFontSize":17,"labelFontWeight":"bold","labelColor":"#111","titleFont":"Liberation Sans","titleFontWeight":"bold","titleColor":"#111","grid":false},
"title":{"font":"Liberation Sans","fontSize":15,"fontWeight":"bold","color":"#111","offset":6}
}
}
